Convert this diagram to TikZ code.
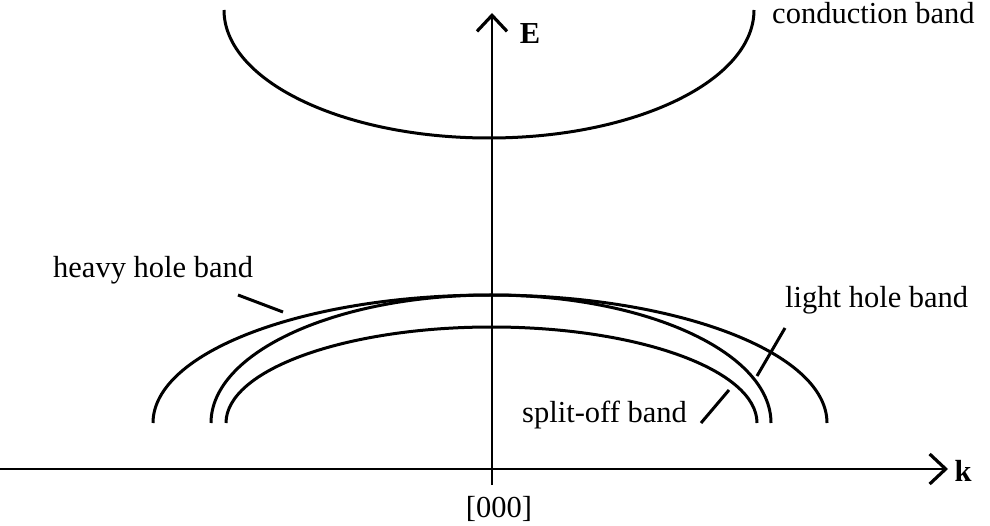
\documentclass[tikz,border=0pt]{standalone}
\usepackage{fontspec}
\setmainfont{Liberation Serif}
\usetikzlibrary{arrows.meta}
\begin{document}
\begin{tikzpicture}[x=1pt,y=1pt,
  band/.style={line width=3pt},
  axis/.style={line width=2.4pt,-{Straight Barb[length=16pt,width=30pt,line width=3.2pt]}},
  leader/.style={line width=3pt},
  lbl/.style={inner sep=0pt,font=\fontsize{30.5}{36}\selectfont}]
\useasboundingbox (0,0) rectangle (990,525);
% axes
\coordinate (vbot) at (492,40);
\coordinate (vtop) at (492,512);
\coordinate (hleft) at (0,56);
\coordinate (hright) at (948,56);
\draw[axis] (vbot) -- (vtop);
\draw[axis] (hleft) -- (hright);
\node[lbl,font=\fontsize{30.5}{36}\selectfont\bfseries] (E) at (530,491) {E};
\node[lbl,font=\fontsize{30.5}{36}\selectfont\bfseries,anchor=base] (k) at (963,44) {k};
\node[lbl,anchor=base] (origin) at (499,8) {[000]};
% conduction band
\coordinate (cbL) at (224,515);
\draw[band] (cbL) arc[start angle=180,end angle=360,x radius=265,y radius=128];
\node[lbl,anchor=base west] (cbtext) at (772,501) {conduction band};
% valence bands
\coordinate (hhL) at (153,102);
\coordinate (lhL) at (211,102);
\coordinate (soL) at (226,102);
\draw[band] (hhL) arc[start angle=180,end angle=0,x radius=337,y radius=128];
\draw[band] (lhL) arc[start angle=180,end angle=0,x radius=280,y radius=128];
\draw[band] (soL) arc[start angle=180,end angle=0,x radius=265.5,y radius=96];
% labels
\node[lbl,anchor=base west] (hhtext) at (53,247) {heavy hole band};
\node[lbl,anchor=base west] (lhtext) at (785,217) {light hole band};
\node[lbl,anchor=base west] (sotext) at (522,103) {split-off band};
\coordinate (hh1) at (238,230);
\coordinate (hh2) at (283,213);
\coordinate (lh1) at (785,197);
\coordinate (lh2) at (757,149);
\coordinate (so1) at (701,102);
\coordinate (so2) at (729,135);
\draw[leader] (hh1) -- (hh2);
\draw[leader] (lh1) -- (lh2);
\draw[leader] (so1) -- (so2);
\end{tikzpicture}
\end{document}
